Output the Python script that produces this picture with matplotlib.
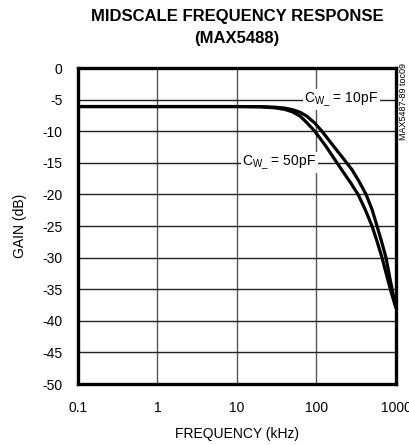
import matplotlib
matplotlib.use("Agg")
import matplotlib.pyplot as plt

FONT = ['Liberation Sans Narrow', 'Liberation Sans', 'DejaVu Sans']
plt.rcParams['font.family'] = FONT
plt.rcParams['mathtext.fontset'] = 'custom'
plt.rcParams['mathtext.rm'] = 'Liberation Sans'
plt.rcParams['mathtext.it'] = 'Liberation Sans'

# Data (frequency in kHz, gain in dB)
freq_50pf = [0.1, 1, 10, 20, 30, 40, 50, 62, 75, 95, 130, 181, 215, 270, 333,
             410, 499, 580, 667, 770, 870, 1000]
gain_50pf = [-6.1, -6.1, -6.1, -6.15, -6.3, -6.55, -6.95, -7.6, -8.6, -10.0, -12.3,
             -15.0, -16.4, -18.2, -20.0, -22.4, -25.0, -27.5, -30.0, -33.0, -35.5, -38.0]
freq_10pf = [0.1, 1, 10, 20, 30, 40, 50, 62, 75, 95, 117, 160, 220, 280, 345,
             420, 500, 577, 660, 748, 830, 920, 1000]
gain_10pf = [-6.1, -6.1, -6.1, -6.12, -6.2, -6.35, -6.6, -7.0, -7.6, -8.7, -10.0,
             -12.2, -14.4, -16.1, -18.0, -20.0, -22.4, -25.0, -27.5, -30.0, -33.0,
             -35.8, -38.0]

x_ticks = [0.1, 1, 10, 100, 1000]
x_labels = ['0.1', '1', '10', '100', '1000']
y_ticks = list(range(0, -55, -5))

fig = plt.figure(figsize=(4.10, 4.45), dpi=100)
ax = fig.add_axes([78/410, 1 - 384/445, (396 - 78)/410, (384 - 68)/445])

ax.set_xscale('log')
ax.set_xlim(0.1, 1000)
ax.set_ylim(-50, 0)

ax.set_xticks(x_ticks)
ax.set_xticklabels(x_labels)
ax.set_yticks(y_ticks)
ax.set_yticklabels([str(v) for v in y_ticks])
ax.minorticks_off()
ax.tick_params(axis='both', length=0, labelsize=10)
ax.tick_params(axis='x', pad=12)
ax.tick_params(axis='y', pad=11)

for v in [1, 10, 100]:
    ax.axvline(v, color='#555555', lw=1.0, zorder=1)
for v in y_ticks[1:-1]:
    ax.axhline(v, color='#222222', lw=1.0, zorder=1)

ax.plot(freq_10pf, gain_10pf, color='black', lw=2.3, zorder=3, solid_capstyle='butt')
ax.plot(freq_50pf, gain_50pf, color='black', lw=2.3, zorder=3, solid_capstyle='butt')

for s in ax.spines.values():
    s.set_linewidth(2.4)
    s.set_zorder(5)

bbox = dict(facecolor='white', edgecolor='none', pad=1.0)
ax.text(205, -5, r'C$_{\mathrm{W\_}}$ = 10pF', fontsize=10, ha='center', va='center',
        bbox=bbox, zorder=4)
ax.text(34, -15, r'C$_{\mathrm{W\_}}$ = 50pF', fontsize=10, ha='center', va='center',
        bbox=bbox, zorder=4)

ax.set_xlabel('FREQUENCY (kHz)', fontsize=10, labelpad=9)
ax.set_ylabel('GAIN (dB)', fontsize=10, labelpad=11)

fig.text(237/410, 1 - 16/445, 'MIDSCALE FREQUENCY RESPONSE', fontsize=12,
         fontweight='bold', ha='center', va='center')
fig.text(237/410, 1 - 38/445, '(MAX5488)', fontsize=12,
         fontweight='bold', ha='center', va='center')
fig.text(404/410, 1 - 101/445, 'MAX5487-89 toc09', fontsize=6.5, rotation=90,
         ha='center', va='center')

fig.savefig('out.png', dpi=100)
